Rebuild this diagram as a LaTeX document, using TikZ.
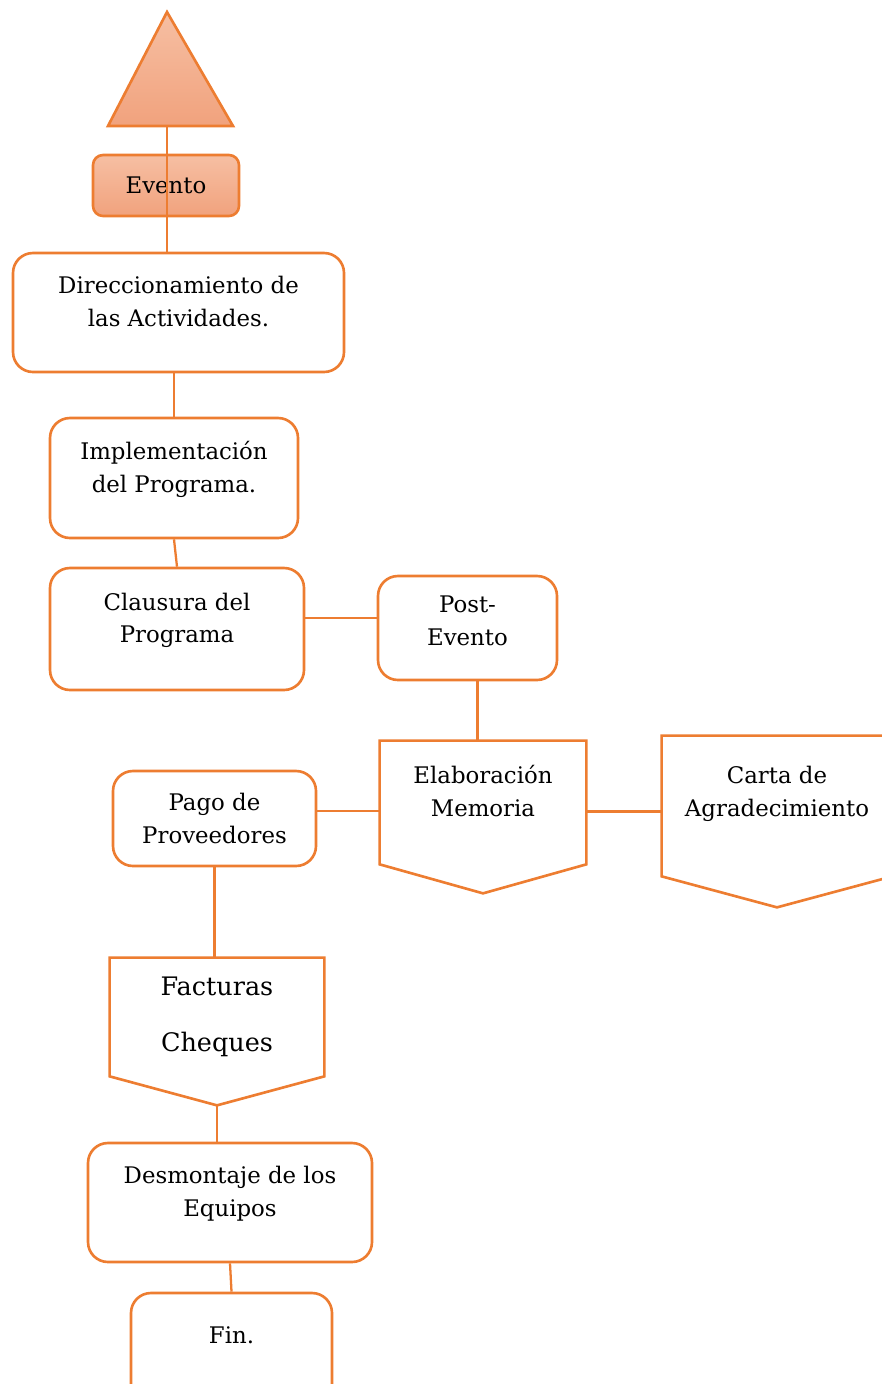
\documentclass[tikz,border=0pt]{standalone}
\usepackage{fontspec}
\setmainfont{DejaVu Serif}
\definecolor{naranja}{HTML}{ED7D31}
\definecolor{salmonclaro}{HTML}{F6BFA3}
\definecolor{salmon}{HTML}{F1A27D}
\tikzset{
  caja/.style={draw=naranja, line width=1.5pt, rounded corners=0.4cm, align=center, font=\fontsize{13}{18.7}\selectfont},
  hoja/.style={align=center, inner sep=0pt, font=\fontsize{13}{18.7}\selectfont},
  borde/.style={draw=naranja, line width=1.5pt, line join=miter},
  linea/.style={draw=naranja, line width=1.3pt}
}
\begin{document}
\begin{tikzpicture}
    \useasboundingbox (0,0) rectangle (17.64,-27.68);

    % Inicio
    \draw[borde, top color=salmonclaro, bottom color=salmon] (3.34,-0.24) -- (4.66,-2.52) -- (2.16,-2.52) -- cycle;
    \coordinate (base) at (3.34,-2.52);
    \node[caja, rounded corners=0.2cm, top color=salmonclaro, bottom color=salmon, minimum width=2.92cm, minimum height=1.22cm] (evento) at (3.32,-3.71) {Evento};

    % Columna izquierda
    \node[caja, text depth=0.45cm, minimum width=6.62cm, minimum height=2.38cm] (direc) at (3.57,-6.25) {Direccionamiento de\\las Actividades.};
    \node[caja, text depth=0.45cm, minimum width=4.96cm, minimum height=2.40cm] (implem) at (3.48,-9.56) {Implementación\\del Programa.};
    \node[caja, text depth=0.45cm, minimum width=5.08cm, minimum height=2.44cm] (clausura) at (3.54,-12.58) {Clausura del\\Programa};
    \node[caja, text depth=0.3cm, minimum width=3.58cm, minimum height=2.08cm] (post) at (9.35,-12.56) {Post-\\Evento};
    \node[caja, minimum width=4.06cm, minimum height=1.90cm] (pago) at (4.29,-16.37) {Pago de\\Proveedores};
    \node[caja, text depth=0.45cm, minimum width=5.68cm, minimum height=2.38cm] (desmontaje) at (4.60,-24.05) {Desmontaje de los\\Equipos};
    \node[caja, text depth=0.6cm, minimum width=4.02cm, minimum height=2.30cm] (fin) at (4.63,-27.01) {Fin.};

    % Documentos
    \node[hoja, text depth=0.45cm, minimum width=4.12cm, minimum height=2.46cm] (memoria) at (9.66,-16.05) {Elaboración\\Memoria};
    \draw[borde] (memoria.north west) -- (memoria.north east) -- (memoria.south east) -- ([yshift=-0.58cm]memoria.south) -- (memoria.south west) -- cycle;

    \node[hoja, text depth=0.6cm, minimum width=4.60cm, minimum height=2.80cm] (carta) at (15.54,-16.12) {Carta de\\Agradecimiento};
    \draw[borde] (carta.north west) -- (carta.north east) -- (carta.south east) -- ([yshift=-0.62cm]carta.south) -- (carta.south west) -- cycle;

    \node[hoja, minimum width=4.28cm, minimum height=2.36cm, font=\fontsize{14.5}{32}\selectfont] (facturas) at (4.34,-20.34) {Facturas\\Cheques};
    \draw[borde] (facturas.north west) -- (facturas.north east) -- (facturas.south east) -- ([yshift=-0.58cm]facturas.south) -- (facturas.south west) -- cycle;
    \coordinate (puntaF) at ([yshift=-0.58cm]facturas.south);

    % Enlaces
    \coordinate (salidaC) at ([yshift=0.22cm]clausura.east);
    \coordinate (salidaP) at ([yshift=0.15cm]pago.east);
    \coordinate (salidaM) at ([yshift=-0.18cm]memoria.east);
    \draw[linea] (base) -- (base |- direc.north);
    \draw[linea] (implem.north) -- (implem.north |- direc.south);
    \draw[linea] (implem.south) -- (clausura.north);
    \draw[linea] (salidaC) -- (salidaC -| post.west);
    \draw[linea] ([xshift=0.2cm]post.south) -- ([xshift=0.2cm]post.south |- memoria.north);
    \draw[linea] (salidaP) -- (salidaP -| memoria.west);
    \draw[linea] (salidaM) -- (salidaM -| carta.west);
    \draw[linea] (pago.south) -- (pago.south |- facturas.north);
    \draw[linea] (puntaF) -- (puntaF |- desmontaje.north);
    \draw[linea] (desmontaje.south) -- (fin.north);
\end{tikzpicture}
\end{document}
